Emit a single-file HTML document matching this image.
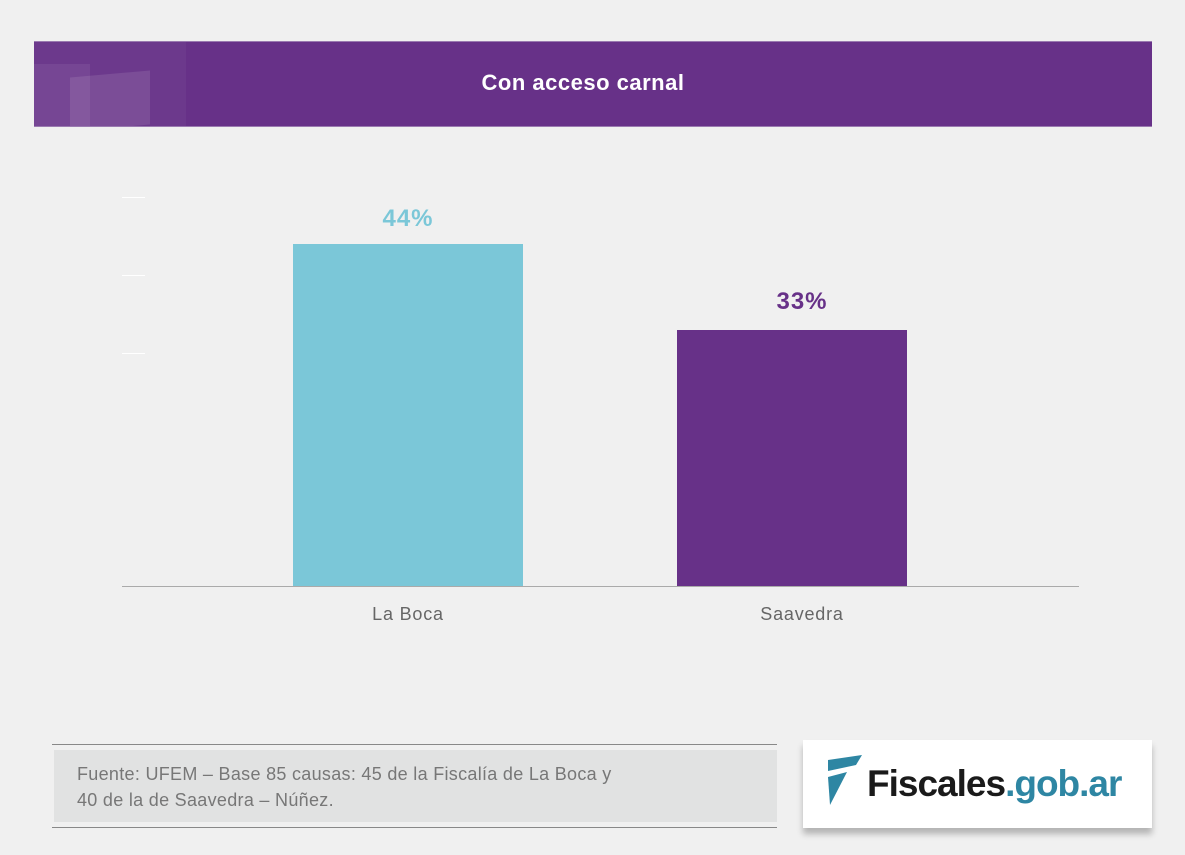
<!DOCTYPE html>
<html><head><style>
body{margin:0;width:1185px;height:855px;background:#f0f0f0;position:relative;overflow:hidden;font-family:"Liberation Sans",sans-serif}
.a{position:absolute}
</style></head><body>
<div class="a" style="left:34px;top:41px;width:1118px;height:86px;background:#673188;border-top:1px solid #9a7ab0;border-bottom:1px solid #9a7ab0;box-sizing:border-box;overflow:hidden">
 <div class="a" style="left:0;top:0;width:152px;height:86px;background:rgba(255,255,255,0.04)"></div>
 <div class="a" style="left:0;top:22px;width:56px;height:64px;background:rgba(255,255,255,0.07)"></div>
 <div class="a" style="left:36px;top:32px;width:80px;height:54px;background:rgba(255,255,255,0.1);transform:skewY(-5deg)"></div>
 <div class="a" style="left:-10px;top:0;width:1118px;text-align:center;line-height:82px;color:#fff;font-weight:bold;font-size:22px;letter-spacing:0.5px">Con acceso carnal</div>
</div>
<div class="a" style="left:122px;top:197px;width:23px;height:1px;background:#fff"></div>
<div class="a" style="left:122px;top:275px;width:23px;height:1px;background:#fff"></div>
<div class="a" style="left:122px;top:353px;width:23px;height:1px;background:#fff"></div>
<div class="a" style="left:293px;top:244px;width:230px;height:342px;background:#7bc7d8"></div>
<div class="a" style="left:677px;top:330px;width:230px;height:256px;background:#673188"></div>
<div class="a" style="left:122px;top:586px;width:957px;height:1px;background:#aaa"></div>
<div class="a" style="left:293px;top:205px;width:230px;text-align:center;color:#7bc7d8;font-weight:bold;font-size:24px;letter-spacing:1px">44%</div>
<div class="a" style="left:677px;top:288px;width:250px;text-align:center;color:#673188;font-weight:bold;font-size:24px;letter-spacing:1px">33%</div>
<div class="a" style="left:293px;top:604px;width:230px;text-align:center;color:#666;font-size:18px;letter-spacing:0.8px">La Boca</div>
<div class="a" style="left:677px;top:604px;width:250px;text-align:center;color:#666;font-size:18px;letter-spacing:0.8px">Saavedra</div>
<div class="a" style="left:52px;top:744px;width:725px;height:1px;background:#888"></div>
<div class="a" style="left:52px;top:827px;width:725px;height:1px;background:#888"></div>
<div class="a" style="left:54px;top:750px;width:723px;height:72px;background:#e1e2e2"></div>
<div class="a" style="left:77px;top:761px;color:#777;font-size:18px;line-height:26px;letter-spacing:0.3px">Fuente: UFEM – Base 85 causas: 45 de la Fiscalía de La Boca y<br>40 de la de Saavedra – Núñez.</div>
<div class="a" style="left:803px;top:740px;width:349px;height:88px;background:#fff;box-shadow:0 6px 6px rgba(0,0,0,0.25)">
 <svg class="a" style="left:22px;top:15px" width="40" height="52"><polygon points="3,5 37,0 31,10 3,16" fill="#2e86a3"/><polygon points="3,22 22,17 5,50" fill="#2e86a3"/></svg>
 <div class="a" style="left:64px;top:23px;font-size:37px;font-weight:bold;letter-spacing:-1px;color:#1a1a1a">Fiscales<span style="color:#2e86a3">.gob.ar</span></div>
</div>
</body></html>
